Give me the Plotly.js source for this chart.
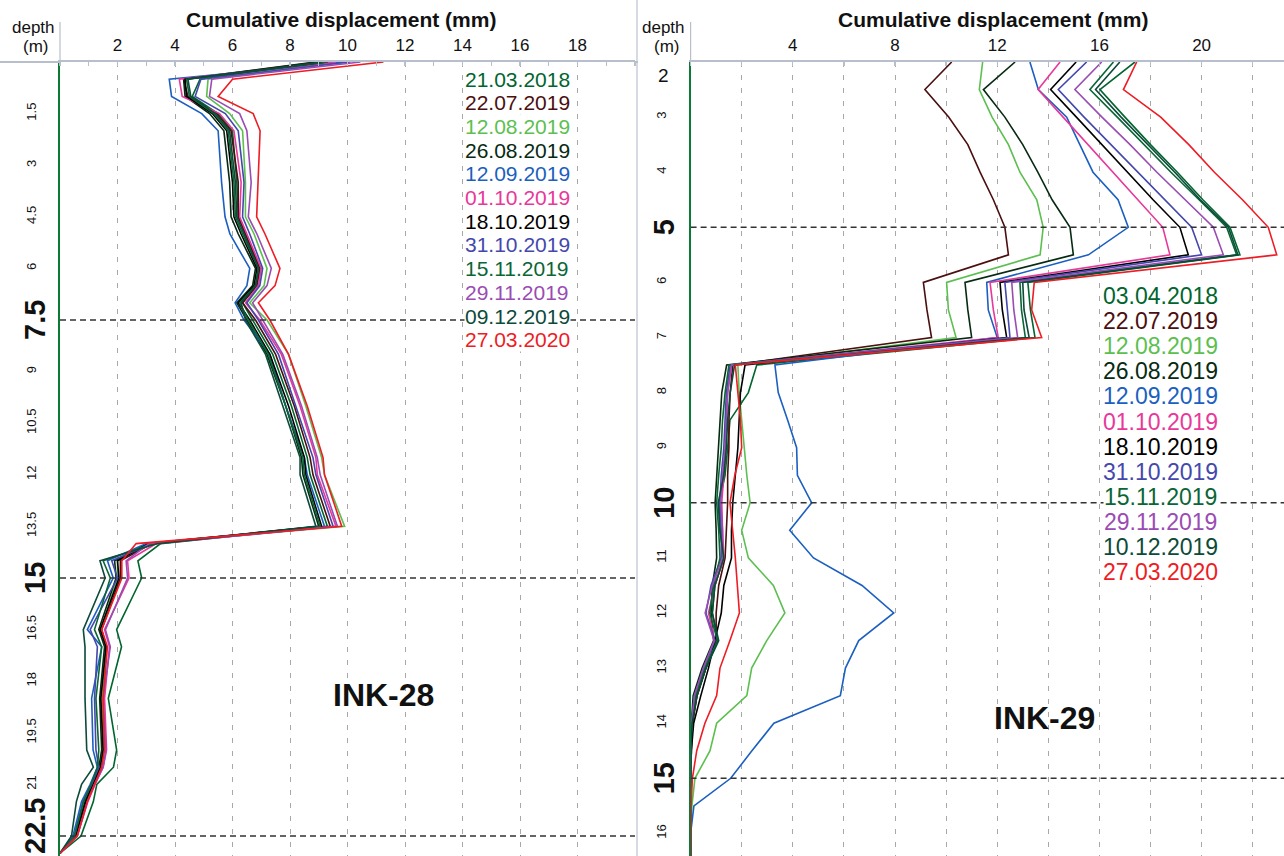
<!DOCTYPE html>
<html>
<head>
<meta charset="utf-8">
<script src="https://cdn.plot.ly/plotly-3.0.1.min.js"></script>
<style>
  html, body { margin: 0; padding: 0; background: #ffffff; }
  #chart { width: 1284px; height: 856px; }
</style>
</head>
<body>
<div id="chart"></div>
<script>
// ---------- INK-28 : inclinometer readings (depth in m, cumulative displacement in mm)
const depth28 = [0, 0.5, 1, 1.5, 2, 3.5, 4.5, 5, 6, 6.5, 7, 7.5, 8.5, 10, 11.5, 12, 13.5,
                 14, 14.5, 15, 16.5, 17, 18.5, 20, 20.5, 21, 21.5, 22.5, 23];

const ink28_21032018 = [9.4, 4.87, 4.6, 5.5, 6.0, 6.15, 6.2, 6.45, 6.95, 6.85, 6.35, 6.7, 7.4, 8.05, 8.6, 8.7, 9.3, 3.5, 2.71, 2.84, 1.97, 2.14, 1.68, 1.97, 1.86, 1.28, 1.16, 0.73, 0];
const ink28_22072019 = [8.9, 4.3, 4.45, 5.45, 5.95, 6.2, 6.2, 6.45, 6.95, 6.85, 6.35, 6.8, 7.5, 8.15, 8.7, 8.8, 9.4, 3.2, 2.1, 2.1, 1.45, 1.62, 1.45, 1.52, 1.42, 1.18, 0.92, 0.57, 0];
const ink28_12082019 = [9.6, 5.15, 5.1, 5.9, 6.35, 6.45, 6.45, 6.75, 7.2, 7.1, 6.6, 7.2, 7.95, 8.55, 9.1, 9.2, 9.9, 3.0, 2.0, 2.0, 1.42, 1.6, 1.45, 1.5, 1.4, 1.15, 0.9, 0.55, 0];
const ink28_26082019 = [9.0, 4.3, 4.35, 5.2, 5.7, 5.9, 5.95, 6.2, 6.8, 6.7, 6.15, 6.5, 7.2, 7.85, 8.4, 8.45, 9.0, 3.05, 1.9, 1.95, 1.35, 1.55, 1.38, 1.45, 1.35, 1.12, 0.87, 0.52, 0];
const ink28_12092019 = [9.9, 3.8, 3.88, 4.93, 5.5, 5.62, 5.74, 5.91, 6.6, 6.5, 6.09, 6.4, 7.3, 7.85, 8.5, 8.6, 9.2, 3.0, 1.65, 1.85, 0.95, 1.45, 1.1, 1.15, 1.3, 1.05, 0.75, 0.45, 0];
const ink28_01102019 = [9.6, 4.15, 4.25, 5.55, 6.05, 6.3, 6.25, 6.5, 7.0, 6.9, 6.45, 6.95, 7.7, 8.35, 8.9, 8.95, 9.6, 3.35, 2.35, 2.4, 1.55, 1.72, 1.55, 1.62, 1.5, 1.22, 0.97, 0.6, 0];
const ink28_18102019 = [9.3, 4.35, 4.4, 5.3, 5.8, 6.0, 6.05, 6.3, 6.85, 6.75, 6.2, 6.6, 7.3, 7.95, 8.5, 8.55, 9.1, 3.1, 2.0, 2.05, 1.4, 1.6, 1.42, 1.5, 1.4, 1.15, 0.9, 0.55, 0];
const ink28_31102019 = [10.1, 4.9, 4.7, 5.75, 6.2, 6.4, 6.35, 6.6, 7.05, 6.95, 6.5, 6.9, 7.6, 8.2, 8.8, 8.9, 9.5, 3.2, 1.8, 2.0, 1.05, 1.3, 1.2, 1.25, 1.35, 1.1, 0.8, 0.5, 0];
const ink28_15112019 = [9.3, 4.4, 4.5, 5.35, 5.85, 6.05, 6.1, 6.35, 6.9, 6.8, 6.25, 6.55, 7.25, 7.85, 8.45, 8.5, 9.05, 3.25, 1.5, 1.75, 1.2, 1.45, 1.25, 1.35, 1.3, 1.08, 0.82, 0.5, 0];
const ink28_29112019 = [10.45, 5.28, 5.2, 6.25, 6.5, 6.65, 6.55, 6.85, 7.35, 7.2, 6.7, 7.05, 7.75, 8.4, 8.95, 9.05, 9.65, 3.1, 2.3, 2.35, 1.58, 1.75, 1.5, 1.6, 1.5, 1.2, 0.95, 0.6, 0];
const ink28_09122019 = [9.1, 4.45, 4.55, 5.4, 5.9, 6.1, 6.15, 6.4, 6.9, 6.8, 6.3, 6.45, 7.15, 7.75, 8.35, 8.35, 8.9, 3.4, 1.39, 1.57, 0.81, 0.87, 0.87, 0.93, 1.16, 0.75, 0.57, 0.4, 0];
const ink28_27032020 = [11.25, 6.0, 5.5, 6.72, 6.96, 6.9, 6.84, 7.13, 7.65, 7.48, 6.9, 7.3, 7.95, 8.6, 9.15, 9.2, 9.8, 2.65, 2.15, 2.15, 1.45, 1.65, 1.5, 1.55, 1.45, 1.2, 0.95, 0.6, 0];

// ---------- INK-29
const depth29 = [2, 2.5, 3, 3.5, 4, 4.5, 5, 5.5, 6, 6.5, 7, 7.5, 8, 8.5, 9, 9.5, 10, 10.5,
                 11, 11.5, 12, 12.5, 13, 13.5, 14, 14.5, 15, 15.5, 16, 16.5];

const ink29_03042018 = [17.39, 16.02, 17.0, 18.0, 19.05, 20.05, 21.11, 21.5, 13.2, 13.3, 13.48, 2.59, 2.26, 1.54, 1.45, 1.35, 1.12, 1.15, 1.3, 0.95, 0.85, 1.05, 0.6, 0.25, 0.06, 0, 0, 0, 0, 0];
const ink29_22072019 = [10.22, 9.17, 10.1, 10.85, 11.33, 11.85, 12.3, 12.44, 9.11, 9.25, 9.43, 1.65, 1.55, 1.5, 1.5, 1.45, 1.45, 1.4, 1.35, 1.1, 1.0, 1.0, 0.6, 0.25, 0.08, 0.03, 0, 0, 0, 0];
const ink29_12082019 = [11.43, 11.3, 11.8, 12.44, 12.89, 13.55, 13.8, 13.68, 10.02, 10.09, 10.39, 1.85, 1.9, 2.0, 2.08, 2.2, 2.33, 2.0, 2.26, 3.24, 3.69, 2.98, 2.39, 2.2, 1.02, 0.76, 0.17, 0.05, 0, 0];
const ink29_26082019 = [12.7, 11.46, 12.3, 13.0, 13.59, 14.15, 14.85, 14.98, 10.74, 10.85, 11.0, 1.41, 1.22, 1.15, 1.1, 1.02, 0.96, 1.0, 1.02, 0.85, 0.8, 0.9, 0.45, 0.1, 0.03, 0, 0, 0, 0, 0];
const ink29_12092019 = [13.28, 13.61, 14.72, 15.24, 15.75, 16.73, 17.13, 15.57, 11.59, 11.65, 12.0, 3.3, 3.43, 3.8, 4.15, 4.18, 4.74, 3.88, 4.81, 6.71, 7.95, 6.58, 6.06, 5.86, 3.26, 2.4, 1.57, 0.13, 0, 0];
const ink29_01102019 = [14.46, 13.6, 14.58, 15.55, 16.53, 17.5, 18.48, 18.76, 11.72, 11.85, 12.04, 1.6, 1.45, 1.4, 1.38, 1.3, 1.22, 1.25, 1.3, 0.95, 0.7, 0.95, 0.55, 0.18, 0.04, 0, 0, 0, 0, 0];
const ink29_18102019 = [15.09, 14.09, 15.1, 16.1, 17.1, 18.1, 19.15, 19.48, 12.11, 12.2, 12.37, 2.13, 1.95, 1.9, 1.85, 1.75, 1.65, 1.6, 1.6, 1.3, 1.2, 0.95, 0.7, 0.4, 0.12, 0.03, 0, 0, 0, 0];
const ink29_31102019 = [15.5, 14.39, 15.4, 16.45, 17.5, 18.55, 19.61, 20.0, 12.3, 12.4, 12.5, 1.55, 1.4, 1.35, 1.3, 1.2, 1.15, 1.2, 1.2, 0.8, 0.6, 0.95, 0.5, 0.15, 0.04, 0, 0, 0, 0, 0];
const ink29_15112019 = [16.55, 15.63, 16.7, 17.75, 18.8, 19.9, 20.98, 21.37, 12.89, 12.95, 13.1, 1.5, 1.35, 1.25, 1.2, 1.1, 1.02, 1.1, 1.15, 0.9, 0.75, 1.05, 0.55, 0.2, 0.05, 0, 0, 0, 0, 0];
const ink29_29112019 = [16.09, 15.04, 16.1, 17.2, 18.25, 19.35, 20.46, 20.85, 12.57, 12.65, 12.8, 1.6, 1.45, 1.4, 1.35, 1.25, 1.18, 1.25, 1.25, 0.85, 0.57, 0.92, 0.5, 0.15, 0.04, 0, 0, 0, 0, 0];
const ink29_10122019 = [16.8, 15.85, 16.85, 17.9, 18.95, 19.95, 21.05, 21.42, 13.0, 13.05, 13.25, 1.72, 1.55, 1.45, 1.4, 1.3, 1.08, 1.15, 1.3, 0.95, 0.85, 1.1, 0.6, 0.25, 0.06, 0, 0, 0, 0, 0];
const ink29_27032020 = [17.46, 16.94, 18.4, 19.5, 20.5, 21.6, 22.61, 22.94, 13.45, 13.35, 13.74, 1.75, 1.85, 1.95, 2.0, 1.73, 1.54, 1.65, 1.75, 1.83, 1.91, 1.54, 1.15, 1.02, 0.56, 0.24, 0.07, 0.02, 0, 0];

// Survey dates, in legend order
const dates28 = ['21.03.2018', '22.07.2019', '12.08.2019', '26.08.2019', '12.09.2019', '01.10.2019',
                 '18.10.2019', '31.10.2019', '15.11.2019', '29.11.2019', '09.12.2019', '27.03.2020'];
const dates29 = ['03.04.2018', '22.07.2019', '12.08.2019', '26.08.2019', '12.09.2019', '01.10.2019',
                 '18.10.2019', '31.10.2019', '15.11.2019', '29.11.2019', '10.12.2019', '27.03.2020'];

const series28 = [ink28_21032018, ink28_22072019, ink28_12082019, ink28_26082019, ink28_12092019, ink28_01102019,
                  ink28_18102019, ink28_31102019, ink28_15112019, ink28_29112019, ink28_09122019, ink28_27032020];
const series29 = [ink29_03042018, ink29_22072019, ink29_12082019, ink29_26082019, ink29_12092019, ink29_01102019,
                  ink29_18102019, ink29_31102019, ink29_15112019, ink29_29112019, ink29_10122019, ink29_27032020];

const lineColors = ['#00652e', '#4b0f0f', '#5cbf50', '#072a12', '#1b5fc0', '#e8389a',
                    '#000000', '#4448ac', '#0a6635', '#9a4cb3', '#0c4a3a', '#ee1c24'];

// Depth tick labels (small rotated ones, and bold marker depths)
const ticks28Small = [1.5, 3, 4.5, 6, 9, 10.5, 12, 13.5, 16.5, 18, 19.5, 21];
const ticks28Big = [7.5, 15, 22.5];
const ticks29Small = [3, 4, 6, 7, 8, 9, 11, 12, 13, 14, 16];
const ticks29Big = [5, 10, 15];
const xTicks28 = [2, 4, 6, 8, 10, 12, 14, 16, 18];
const xTicks29 = [4, 8, 12, 16, 20];

// ---------- page geometry (pixels)
const W = 1284, H = 856, TOP = 62;
const L1 = 60, R1 = 635, L2 = 690.6;
const FONT = 'Liberation Sans, Arial, sans-serif';
const py = Y => (H - Y) / (H - TOP);     // pixel row -> paper y
const px = X => X / W;                    // pixel column -> paper x

const traces = [];
series28.forEach((vals, i) => traces.push({
  x: vals, y: depth28, xaxis: 'x', yaxis: 'y', type: 'scatter', mode: 'lines',
  line: { color: lineColors[i], width: 1.6 }, name: dates28[i], hoverinfo: 'skip'
}));
series29.forEach((vals, i) => traces.push({
  x: vals, y: depth29, xaxis: 'x2', yaxis: 'y2', type: 'scatter', mode: 'lines',
  line: { color: lineColors[i], width: 1.6 }, name: dates29[i], hoverinfo: 'skip'
}));

const topLine = '#b7bfcc';
const gridCol = '#a8a8a8';

function xAxis(domain, range, vals, anchor, minor) {
  return {
    domain: domain, range: range, anchor: anchor, side: 'top',
    tickmode: 'array', tickvals: vals, ticktext: vals.map(String),
    tickfont: { family: FONT, size: 17, color: '#111' },
    ticks: '', showline: true, linecolor: topLine, linewidth: 2,
    showgrid: true, gridcolor: gridCol, gridwidth: 1, griddash: '5px,8px',
    zeroline: false, fixedrange: true, ticklabelstandoff: 2,
    minor: minor
  };
}
function yAxisSmall(range, vals, anchor) {
  return {
    domain: [0, 1], range: range, anchor: anchor,
    tickmode: 'array', tickvals: vals, ticktext: vals.map(v => String(v)),
    tickangle: -90, tickfont: { family: FONT, size: 13, color: '#111' },
    ticks: '', showline: true, linecolor: '#0b7a35', linewidth: 2,
    showgrid: false, zeroline: false, fixedrange: true, ticklabelstandoff: 17
  };
}

const range28y = [(H - TOP) / 34.4, 0];
const range29y = [2 + (H - TOP) / 55.1, 2];
const range29x = [0, (W - L2) / 25.55];

const shapes = [];
// dashed marker-depth lines
ticks28Big.forEach(d => shapes.push({ type: 'line', xref: 'x', yref: 'y', x0: 0, x1: 20, y0: d, y1: d,
  line: { color: '#333', width: 1.5, dash: '6px,4px' } }));
ticks29Big.forEach(d => shapes.push({ type: 'line', xref: 'x2', yref: 'y2', x0: 0, x1: range29x[1], y0: d, y1: d,
  line: { color: '#333', width: 1.5, dash: '6px,4px' } }));
// panel separator and header rules
shapes.push({ type: 'line', xref: 'paper', yref: 'paper', x0: px(637), x1: px(637), y0: 0, y1: py(0),
  line: { color: '#c9cedb', width: 1.5 } });
shapes.push({ type: 'line', xref: 'paper', yref: 'paper', x0: px(0), x1: px(L1), y0: 1, y1: 1,
  line: { color: topLine, width: 2 } });
shapes.push({ type: 'line', xref: 'paper', yref: 'paper', x0: px(R1), x1: px(638), y0: 1, y1: 1,
  line: { color: topLine, width: 2 } });
[L1, L2].forEach(X => shapes.push({ type: 'line', xref: 'paper', yref: 'paper', x0: px(X), x1: px(X),
  y0: 1, y1: py(22), line: { color: topLine, width: 1.2 } }));

const annotations = [];
function txt(text, X, Y, size, color, extra) {
  annotations.push(Object.assign({
    text: text, xref: 'paper', yref: 'paper', x: px(X), y: py(Y),
    xanchor: 'center', yanchor: 'middle', showarrow: false,
    font: { family: FONT, size: size, color: color }
  }, extra || {}));
}
txt('<b>Cumulative displacement (mm)</b>', 341, 20, 21, '#111');
txt('<b>Cumulative displacement (mm)</b>', 993, 20, 21, '#111');
txt('depth', 33, 28, 17, '#111');
txt('(m)', 35, 47, 17, '#111');
txt('depth', 664, 28, 17, '#111');
txt('(m)', 666, 47, 17, '#111');
txt('<b>INK-28</b>', 383, 695, 32, '#111');
txt('<b>INK-29</b>', 1044, 718, 32, '#111');

// bold marker depths, written sideways beside the depth axis
ticks28Big.forEach(d => annotations.push({ text: '<b>' + d + '</b>', xref: 'paper', yref: 'y', x: px(35), y: d,
  xanchor: 'center', yanchor: 'middle', textangle: -90, showarrow: false,
  yshift: d > 22 ? 10 : 0,
  font: { family: FONT, size: 29, color: '#111' } }));
ticks29Big.forEach(d => annotations.push({ text: '<b>' + d + '</b>', xref: 'paper', yref: 'y2', x: px(664), y: d,
  xanchor: 'center', yanchor: 'middle', textangle: -90, showarrow: false,
  font: { family: FONT, size: 29, color: '#111' } }));
// depth 2 label sits upright just below the header rule
annotations.push({ text: '2', xref: 'paper', yref: 'y2', x: px(663), y: 2.25, xanchor: 'center', yanchor: 'middle',
  showarrow: false, font: { family: FONT, size: 19, color: '#111' } });

dates28.forEach((d, i) => txt(d, 517, 79 + 23.7 * i, 21, lineColors[i], { bgcolor: '#ffffff', borderpad: 0 }));
dates29.forEach((d, i) => txt(d, 1160, 296 + 25.1 * i, 23, lineColors[i], { bgcolor: '#ffffff', borderpad: 0 }));

const layout = {
  width: W, height: H, margin: { l: 0, r: 0, t: TOP, b: 0, pad: 0 },
  paper_bgcolor: '#ffffff', plot_bgcolor: '#ffffff', showlegend: false,
  xaxis: xAxis([px(L1), px(R1)], [0, 20], xTicks28, 'y',
    { dtick: 1, tick0: 0, ticks: 'inside', ticklen: 4, tickcolor: topLine, tickwidth: 1.2, showgrid: false }),
  xaxis2: xAxis([px(L2), 1], range29x, xTicks29, 'y2',
    { dtick: 2, tick0: 0, ticks: 'inside', ticklen: 4, tickcolor: topLine, tickwidth: 1.2,
      showgrid: true, gridcolor: gridCol, gridwidth: 1, griddash: '5px,8px' }),
  yaxis: yAxisSmall(range28y, ticks28Small, 'x'),
  yaxis2: yAxisSmall(range29y, ticks29Small, 'x2'),
  shapes: shapes,
  annotations: annotations
};

Plotly.newPlot('chart', traces, layout, { staticPlot: true, displayModeBar: false });
</script>
</body>
</html>
